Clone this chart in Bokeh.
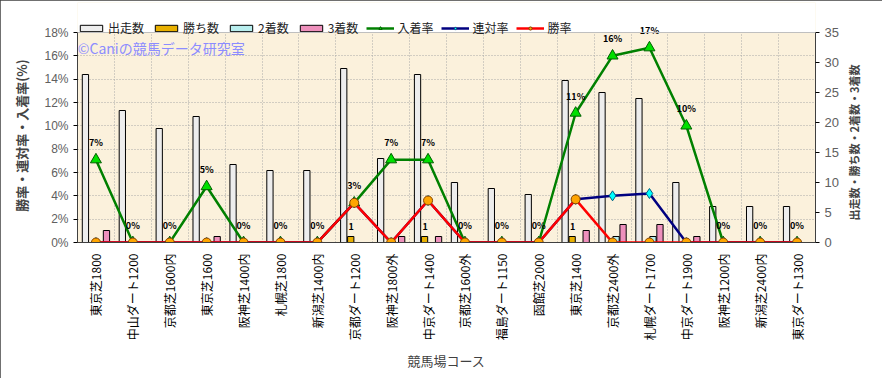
import math
import numpy as np
from bokeh.plotting import figure
from bokeh.models import (Range1d, LinearAxis, FixedTicker, PrintfTickFormatter,
                          Legend, LegendItem, Label, ColumnDataSource, BoxAnnotation, Span)
from bokeh.core.properties import value
from bokeh.embed import file_html
from bokeh.resources import INLINE

# ---------------- data ----------------
courses = ["東京芝1800", "中山ダート1200", "京都芝1600内", "東京芝1600", "阪神芝1400内",
           "札幌芝1800", "新潟芝1400内", "京都ダート1200", "阪神芝1800外", "中京ダート1400",
           "京都芝1600外", "福島ダート1150", "函館芝2000", "東京芝1400", "京都芝2400外",
           "札幌ダート1700", "中京ダート1900", "阪神芝1200内", "新潟芝2400内", "東京ダート1300"]
starts = [28, 22, 19, 21, 13, 12, 12, 29, 14, 28, 10, 9, 8, 27, 25, 24, 10, 6, 6, 6]
wins = [0, 0, 0, 0, 0, 0, 0, 1, 0, 1, 0, 0, 0, 1, 0, 0, 0, 0, 0, 0]
seconds = [0, 0, 0, 0, 0, 0, 0, 0, 0, 0, 0, 0, 0, 0, 1, 1, 0, 0, 0, 0]
thirds = [2, 0, 0, 1, 0, 0, 0, 0, 1, 1, 0, 0, 0, 2, 3, 3, 1, 0, 0, 0]
place_rate = [7.1, 0, 0, 4.8, 0, 0, 0, 3.4, 7.1, 7.1, 0, 0, 0, 11.1, 16.0, 16.7, 10.0, 0, 0, 0]
top2_rate = [0, 0, 0, 0, 0, 0, 0, 3.4, 0, 3.6, 0, 0, 0, 3.7, 4.0, 4.2, 0, 0, 0, 0]
win_rate = [0, 0, 0, 0, 0, 0, 0, 3.4, 0, 3.6, 0, 0, 0, 3.7, 0, 0, 0, 0, 0, 0]
rate_ticks = [0, 2, 4, 6, 8, 10, 12, 14, 16, 18]
count_ticks = [0, 5, 10, 15, 20, 25, 30, 35]

JP = "Noto Sans CJK JP"
n = len(courses)
idx = np.arange(n)

# layout: frame extends to the top so that the legend and top labels are not clipped
TOP_PAD = 2          # px above frame
PLOT_H = 210         # px height of 0..max axis region
FRAME_H = 378 - 136 - TOP_PAD
rate_max = rate_ticks[-1]
cnt_max = count_ticks[-1]
rate_top = rate_max * FRAME_H / PLOT_H
cnt_top = cnt_max * FRAME_H / PLOT_H
PAD = "\u3000"       # full-width padding to place the axis titles along the plotting area

src = ColumnDataSource(dict(
    x=idx, starts=starts, wins=wins, seconds=seconds, thirds=thirds,
    place=place_rate, top2=top2_rate, win=win_rate,
    place_lbl=["%d%%" % round(v) for v in place_rate],
))
win_idx = [i for i in range(n) if wins[i] > 0]
win_src = ColumnDataSource(dict(x=[idx[i] for i in win_idx],
                                y=[wins[i] for i in win_idx],
                                t=[str(wins[i]) for i in win_idx]))

p = figure(width=882, height=378, output_backend="svg", toolbar_location=None,
           x_range=Range1d(-0.5, n - 0.5), y_range=Range1d(0, rate_top),
           min_border_left=77, min_border_right=67, min_border_top=TOP_PAD, min_border_bottom=136,
           background_fill_color="#FBF1DC", border_fill_color="white")
p.extra_y_ranges = {"cnt": Range1d(0, cnt_top)}
p.outline_line_color = None
p.styles = {"outline": "1px solid #404040", "outline-offset": "-1px"}

# grids
p.ygrid.ticker = FixedTicker(ticks=rate_ticks)
p.xgrid.ticker = FixedTicker(ticks=list(idx[:-1] + 0.5))
for g in (p.xgrid[0], p.ygrid[0]):
    g.grid_line_color = "#A8A8A8"
    g.grid_line_dash = "1 2"
    g.grid_line_width = 1

# white cover above the plotting area (legend region)
p.add_layout(BoxAnnotation(bottom=rate_max, fill_color="white", fill_alpha=1.0,
                           line_color=None, level="underlay"))
p.add_layout(Span(location=rate_max, dimension="width", line_color="#BFBFBF", line_width=1))

# left axis
ya = p.yaxis[0]
ya.ticker = FixedTicker(ticks=rate_ticks)
ya.bounds = (0, rate_max)
ya.formatter = PrintfTickFormatter(format="%d%%")
ya.axis_label = "勝率・連対率・入着率(%)" + PAD * 2
ya.axis_label_text_font = JP
ya.axis_label_text_font_style = "bold"
ya.axis_label_text_font_size = "13px"
ya.axis_label_standoff = 10
ya.major_label_text_font = "Liberation Sans"
ya.major_label_text_font_size = "12px"
ya.major_label_text_color = "#606060"
ya.axis_line_color = "#404040"
ya.major_tick_out = 4
ya.major_tick_in = 0
ya.minor_tick_line_color = None

# right axis
ra = LinearAxis(y_range_name="cnt", ticker=FixedTicker(ticks=count_ticks))
ra.bounds = (0, cnt_max)
ra.axis_label = PAD * 2 + "出走数・勝ち数・2着数・3着数"
ra.axis_label_orientation = math.pi / 2
ra.axis_label_align = "start"
ra.axis_label_text_font = JP
ra.axis_label_text_font_style = "bold"
ra.axis_label_text_font_size = "11px"
ra.axis_label_standoff = 12
ra.major_label_text_font = "Liberation Sans"
ra.major_label_text_font_size = "13px"
ra.major_label_text_color = "#606060"
ra.axis_line_color = "#404040"
ra.major_tick_out = 4
ra.major_tick_in = 0
ra.minor_tick_line_color = None
p.add_layout(ra, "right")

# bottom axis
xa = p.xaxis[0]
xa.ticker = FixedTicker(ticks=list(idx))
xa.major_label_overrides = {int(i): c for i, c in zip(idx, courses)}
xa.major_label_orientation = math.pi / 2
xa.major_label_text_font = JP
xa.major_label_text_font_size = "12px"
xa.major_label_text_color = "#000000"
xa.axis_label = "競馬場コース"
xa.axis_label_text_font = JP
xa.axis_label_text_font_style = "normal"
xa.axis_label_text_font_size = "13px"
xa.axis_label_text_color = "#404040"
xa.axis_label_standoff = 8
xa.axis_line_color = "#404040"
xa.major_tick_line_color = None
xa.minor_tick_line_color = None

# bars
bw = 0.17
offs = [-0.285, -0.095, 0.095, 0.285]
r_st = p.vbar(x=idx + offs[0], top=starts, width=bw, y_range_name="cnt",
              fill_color="#EDEDED", line_color="black", line_width=1)
r_w = p.vbar(x=idx + offs[1], top=wins, width=bw, y_range_name="cnt",
             fill_color="#E8B000", line_color="black", line_width=1)
r_2 = p.vbar(x=idx + offs[2], top=seconds, width=bw, y_range_name="cnt",
             fill_color="#B8EEEE", line_color="black", line_width=1)
r_3 = p.vbar(x=idx + offs[3], top=thirds, width=bw, y_range_name="cnt",
             fill_color="#EE90BC", line_color="black", line_width=1)

# win count labels
p.text(x="x", y="y", text="t", source=win_src, y_range_name="cnt",
       x_offset=-3, y_offset=-7, text_align="center", text_baseline="bottom",
       text_font=value(JP), text_font_size="9px", text_font_style="bold", text_color="black")

# lines
l_pl = p.line(x="x", y="place", source=src, line_color="#008000", line_width=2.5)
m_pl = p.scatter(x="x", y="place", source=src, marker="triangle", size=11,
                 fill_color="#00E000", line_color="#006000", line_width=1)
l_t2 = p.line(x="x", y="top2", source=src, line_color="#000080", line_width=2.5)
m_t2 = p.scatter(x="x", y="top2", source=src, marker="diamond", size=10,
                 fill_color="#00FFFF", line_color="#006080", line_width=1)
l_w = p.line(x="x", y="win", source=src, line_color="#FF0000", line_width=2.5)
m_w = p.scatter(x="x", y="win", source=src, marker="circle", size=9,
                fill_color="#FFA500", line_color="#804000", line_width=1)

# place-rate labels
p.text(x="x", y="place", text="place_lbl", source=src, y_offset=-17,
       text_align="center", text_baseline="middle",
       text_font=value(JP), text_font_size="9px", text_font_style="bold", text_color="black")

# watermark
p.add_layout(Label(x=-0.49, y=16.7, text="©Caniの競馬データ研究室", text_font=JP,
                   text_font_size="14px", text_color="#8C8CFF", text_baseline="middle"))

legend = Legend(items=[
    LegendItem(label="出走数", renderers=[r_st]),
    LegendItem(label="勝ち数", renderers=[r_w]),
    LegendItem(label="2着数", renderers=[r_2]),
    LegendItem(label="3着数", renderers=[r_3]),
    LegendItem(label="入着率", renderers=[l_pl, m_pl]),
    LegendItem(label="連対率", renderers=[l_t2, m_t2]),
    LegendItem(label="勝率", renderers=[l_w, m_w]),
], orientation="horizontal", location=(0, PLOT_H - 4))
legend.margin = 0
legend.padding = 6
legend.spacing = 8
legend.glyph_width = 28
legend.glyph_height = 8
legend.label_standoff = 3
legend.label_text_font = JP
legend.label_text_font_size = "12px"
legend.label_text_color = "#222222"
legend.border_line_color = None
legend.background_fill_alpha = 0
p.add_layout(legend)

open("out.html", "w").write(file_html(p, INLINE))
